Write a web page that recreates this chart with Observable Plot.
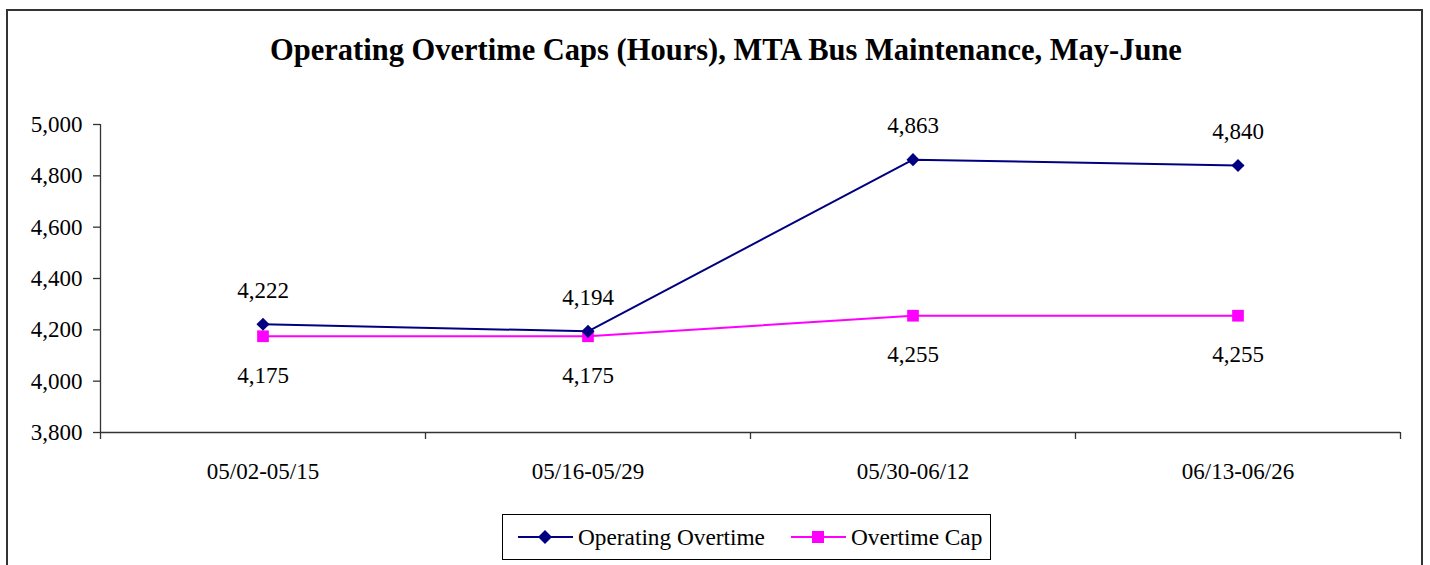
<!DOCTYPE html>
<html><head><meta charset="utf-8">
<script src="https://cdn.jsdelivr.net/npm/d3@7"></script>
<script src="https://cdn.jsdelivr.net/npm/@observablehq/plot@0.6"></script>
<style>
body{margin:0;background:#fff;}
#wrap{position:relative;width:1430px;height:565px;overflow:hidden;font-family:"Liberation Serif","Times New Roman",serif;color:#000;}
#frame{position:absolute;left:6px;top:9px;width:1413px;height:620px;border:2px solid #333;}
#title{position:absolute;left:0;width:1452px;top:32px;text-align:center;font-weight:bold;font-size:30.5px;line-height:36px;}
#chart{position:absolute;left:0;top:0;}
#legend{position:absolute;left:502px;top:514px;width:487px;height:44px;border:1px solid #000;background:#fff;}
.li{position:absolute;top:0;height:44px;display:flex;align-items:center;font-size:23.3px;white-space:nowrap;}
.li svg{margin-right:5px;}
</style>
</head><body>
<div id="wrap">
  <div id="frame"></div>
  <div id="chart"></div>
  <div id="title">Operating Overtime Caps (Hours), MTA Bus Maintenance, May-June</div>
  <div id="legend"></div>
</div>
<script>
const periods = ["05/02-05/15", "05/16-05/29", "05/30-06/12", "06/13-06/26"];
const operatingOvertime = [4222, 4194, 4863, 4840];
const overtimeCap = [4175, 4175, 4255, 4255];
const yTicks = [3800, 4000, 4200, 4400, 4600, 4800, 5000];
const seriesNames = ["Operating Overtime", "Overtime Cap"];
const seriesColors = ["#000080", "#FF00FF"];

const fmt = d3.format(",");
const opData = periods.map((p, i) => ({period: p, pos: i + 0.5, value: operatingOvertime[i]}));
const capData = periods.map((p, i) => ({period: p, pos: i + 0.5, value: overtimeCap[i]}));
const boundaries = d3.range(periods.length + 1);
const centers = periods.map((p, i) => i + 0.5);

const chart = Plot.plot({
  width: 1430,
  height: 565,
  marginLeft: 100,
  marginRight: 30,
  marginTop: 124,
  marginBottom: 133,
  style: {fontFamily: "'Liberation Serif','Times New Roman',serif", fontSize: "23px", background: "transparent", color: "#000"},
  x: {type: "linear", domain: [0, periods.length]},
  y: {domain: [3800, 5000]},
  marks: [
    Plot.ruleY([3800], {stroke: "#333", strokeWidth: 1.3}),
    Plot.ruleX([0], {stroke: "#333", strokeWidth: 1.3}),
    Plot.axisY(yTicks, {tickSize: 7, tickPadding: 11, tickFormat: fmt, stroke: "#333", strokeWidth: 1.3, fill: "#000", label: null}),
    Plot.axisX(boundaries, {tickSize: 7, tickFormat: () => "", stroke: "#333", strokeWidth: 1.3, label: null}),
    Plot.axisX(centers, {tickSize: 0, tickPadding: 30, tickFormat: d => periods[Math.floor(d)], fill: "#000", label: null}),
    Plot.line(capData, {x: "pos", y: "value", stroke: seriesColors[1], strokeWidth: 2}),
    Plot.line(opData, {x: "pos", y: "value", stroke: seriesColors[0], strokeWidth: 2}),
    Plot.dot(capData, {x: "pos", y: "value", symbol: "square", r: 6.6, fill: seriesColors[1], stroke: "none"}),
    Plot.dot(opData, {x: "pos", y: "value", symbol: "diamond2", r: 5.9, fill: seriesColors[0], stroke: "none"}),
    Plot.text(opData, {x: "pos", y: "value", text: d => fmt(d.value), dy: -34, fill: "#000", fontSize: 23}),
    Plot.text(capData, {x: "pos", y: "value", text: d => fmt(d.value), dy: 39, fill: "#000", fontSize: 23})
  ]
});
document.getElementById("chart").appendChild(chart);

// legend
const legend = document.getElementById("legend");
const legendLeft = [15, 288];
const symbols = ["diamond", "square"];
seriesNames.forEach((name, i) => {
  const item = document.createElement("div");
  item.className = "li";
  item.style.left = legendLeft[i] + "px";
  const shape = symbols[i] === "diamond"
    ? `<path d="M27,1 L34,8 L27,15 L20,8 Z" fill="${seriesColors[i]}"/>`
    : `<rect x="21" y="2" width="12" height="12" fill="${seriesColors[i]}"/>`;
  item.innerHTML = `<svg width="55" height="16"><line x1="0" x2="55" y1="8" y2="8" stroke="${seriesColors[i]}" stroke-width="2"/>${shape}</svg><span>${name}</span>`;
  legend.appendChild(item);
});
</script>
</body></html>
